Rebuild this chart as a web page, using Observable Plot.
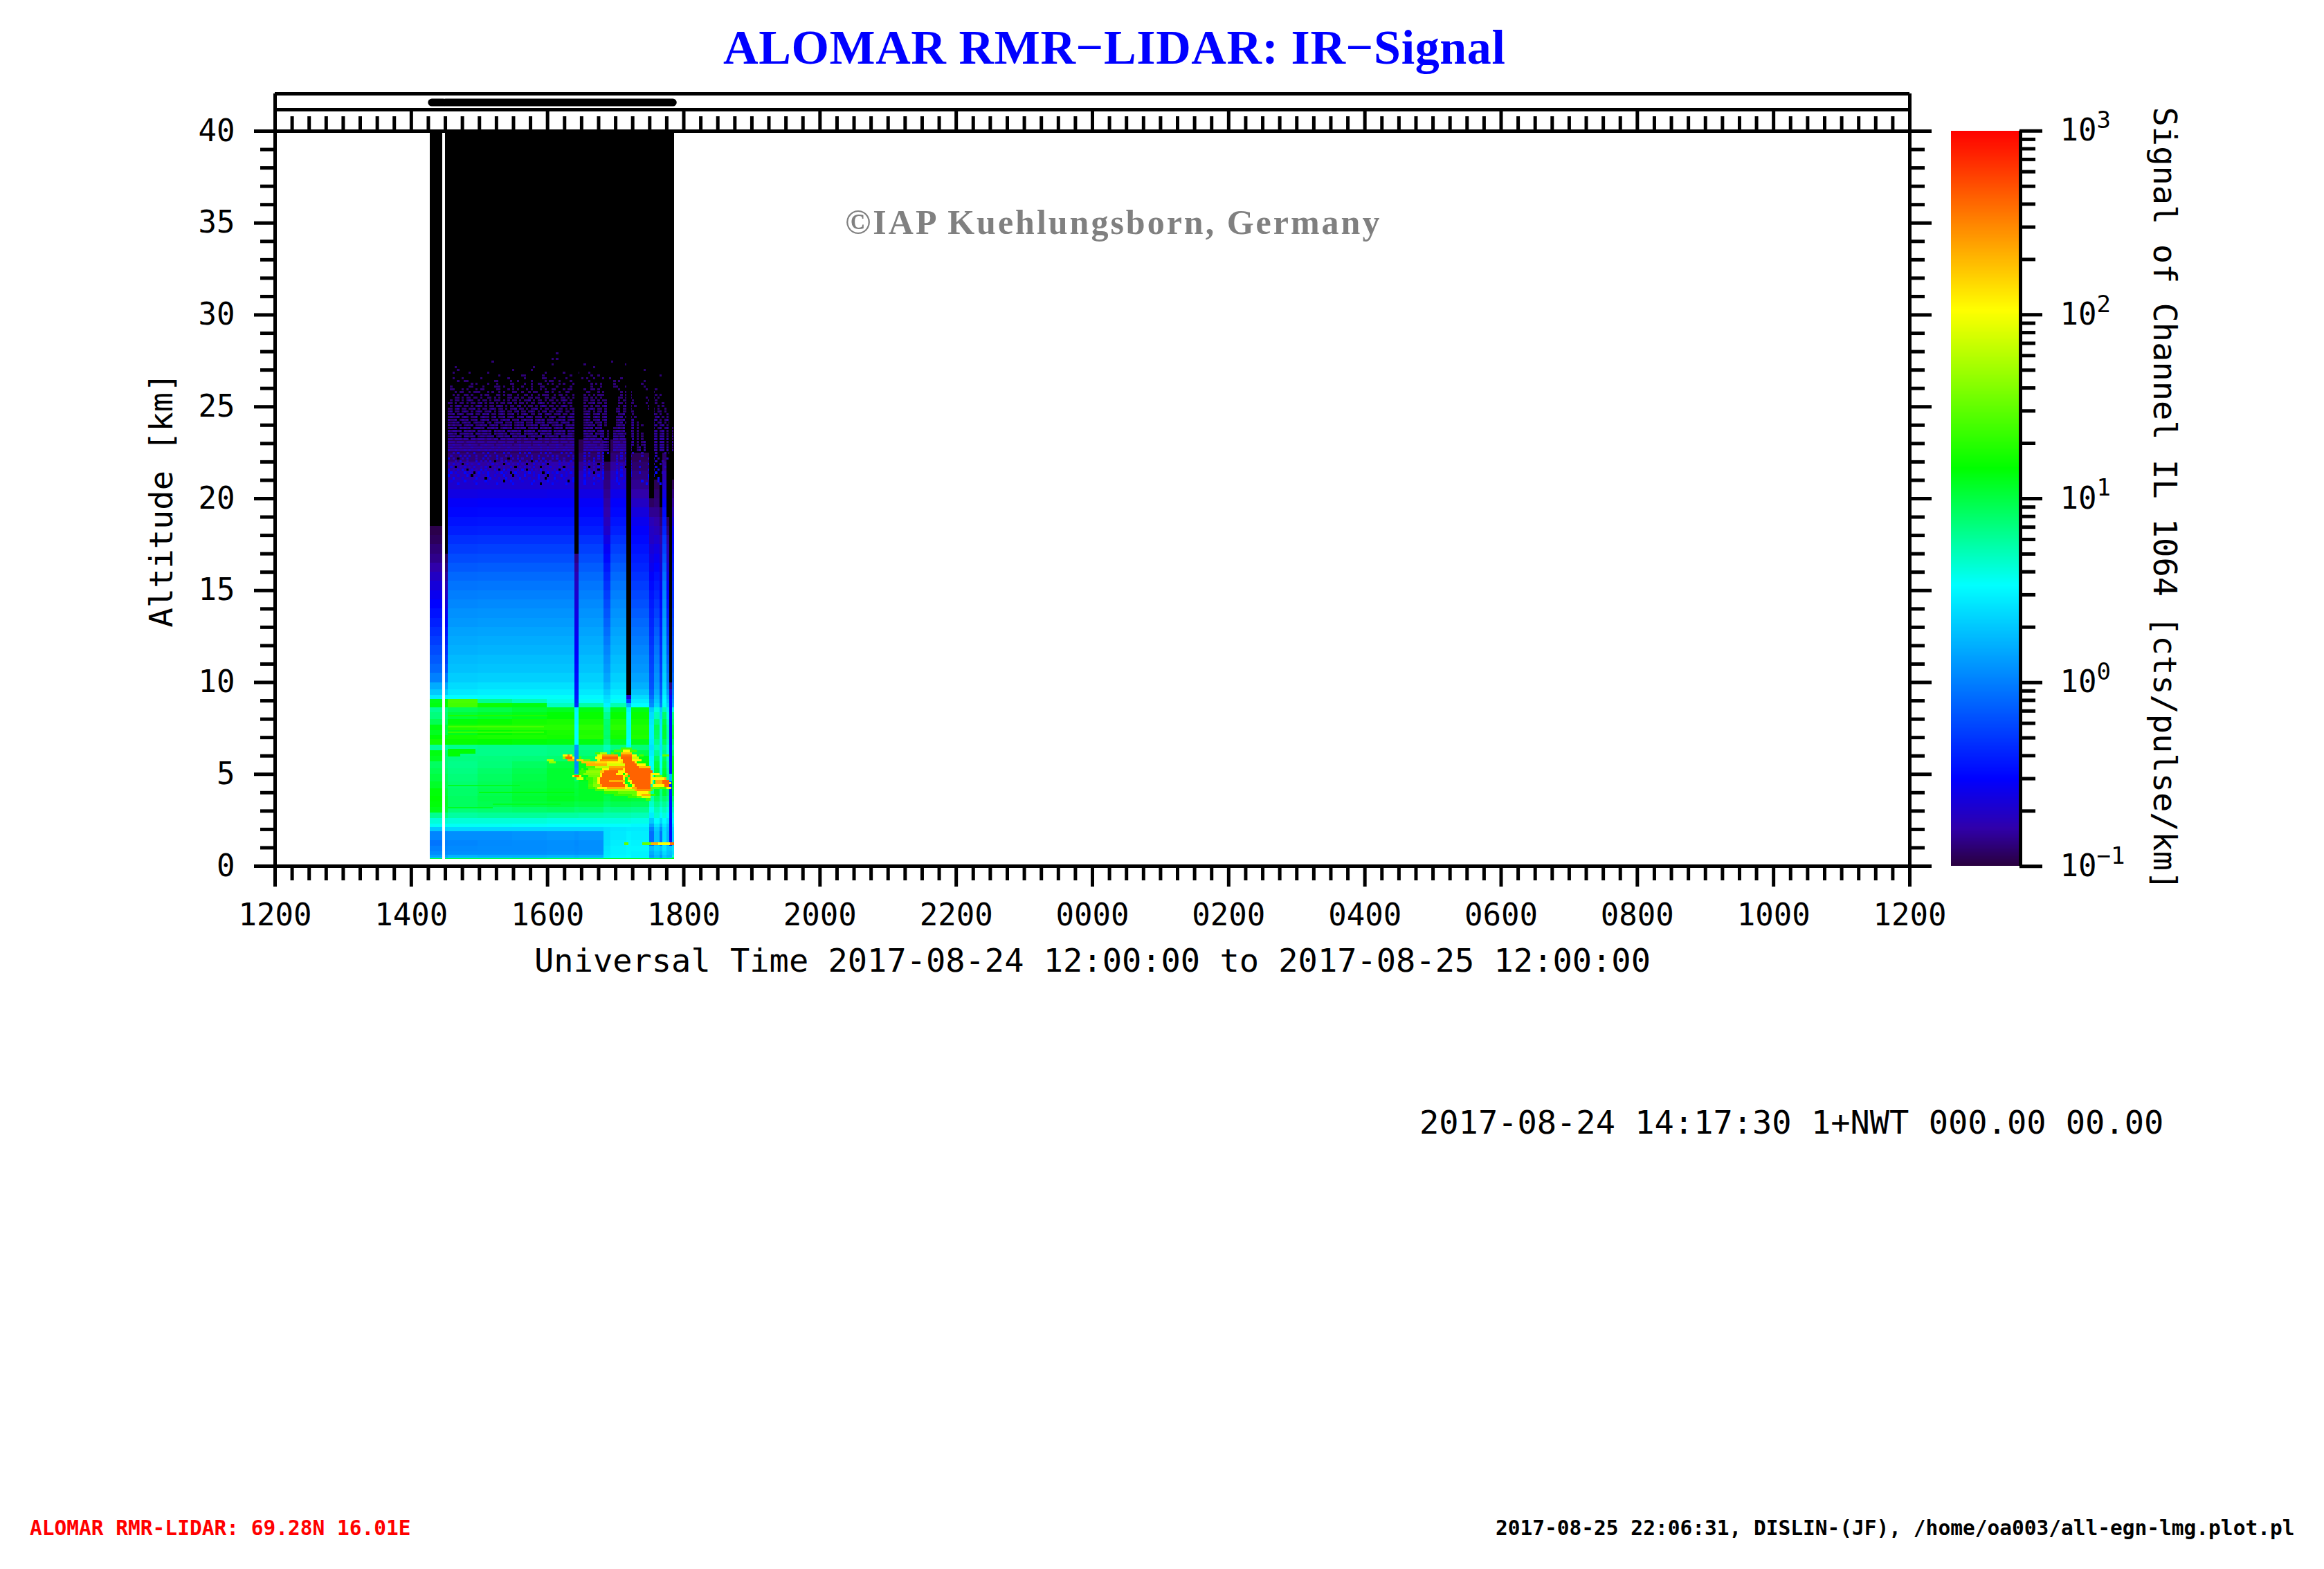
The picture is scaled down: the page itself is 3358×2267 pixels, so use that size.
<!DOCTYPE html>
<html><head><meta charset="utf-8">
<script src="https://cdn.jsdelivr.net/npm/d3@7"></script>
<script src="https://cdn.jsdelivr.net/npm/@observablehq/plot@0.6"></script>
<style>html,body{margin:0;background:#fff}#page{position:relative;width:3358px;height:2267px;overflow:hidden;background:#fff}
#page svg{position:absolute;left:0;top:0;background:transparent}
.t{position:absolute;white-space:pre;line-height:1}</style></head>
<body><div id="page"></div>
<script>
const N = null;
// Hour intervals of the profile groups (12 = 12 UT on the first day)
const timeBins = [[14.276,14.459],[14.499,14.54],[14.54,14.977],[14.977,15.485],[15.485,15.993],[15.993,16.40],[16.40,16.46],[16.46,16.826],[16.826,16.928],[16.928,17.162],[17.162,17.233],[17.233,17.497],[17.497,17.568],[17.568,17.649],[17.649,17.69],[17.69,17.751],[17.751,17.792],[17.792,17.832],[17.832,17.863]];
// Altitude edges, km, top to bottom
const kmEdges = [23.2,22.5,22,21.5,21,20.5,20,19.5,19,18.5,18,17.5,17,16.5,16,15.5,15,14.5,14,13.5,13,12.5,12,11.5,11,10.5,10,9.6,9.3,9.07,8.85,8.63,8.35,8,7.7,7.4,7.1,6.9,6.6,6.3,6,5.7,5.3,5,4.6,4.2,3.8,3.5,3.2,2.9,2.6,2.3,2.1,1.9,1.4,1.1,.8,.6,.45,.42,.38];
// log10(signal) x 100; null = black
const signalRows = [
[N,N,-96,-96,-96,-96,N,-97,N,-96,N,N,N,N,N,N,N,N,N],
[N,N,-90,-90,-90,-90,N,-92,N,-90,N,-96,N,N,N,-92,N,N,N],
[N,N,-82,-82,-82,-80,N,-84,-96,-82,N,-92,N,N,N,-85,N,N,N],
[N,N,-76,-75,-75,-74,N,-76,-90,-74,N,-88,N,N,N,-78,N,N,N],
[N,N,-69,-68,-68,-67,N,-70,-88,-68,N,-85,N,-96,N,-70,N,N,-96],
[N,N,-62,-61,-61,-60,N,-62,-85,-60,N,-80,N,-92,N,-62,N,N,-88],
[N,N,-55,-54,-54,-54,N,-55,-82,-54,N,-72,-94,-90,N,-54,N,N,-82],
[N,N,-51,-50,-50,-50,N,-51,-80,-50,N,-64,-85,-85,-96,-49,N,N,-75],
[N,N,-46,-45,-45,-45,N,-46,-75,-45,N,-58,-76,-80,-90,-44,-96,N,-65],
[-98,N,-41,-40,-40,-40,N,-41,-70,-40,N,-54,-72,-75,-85,-38,-90,N,-55],
[-95,N,-34,-33,-33,-33,N,-33,-62,-33,N,-50,-72,-68,-80,-30,-82,N,-52],
[-90,N,-28,-27,-27,-27,N,-27,-56,-27,N,-46,-66,-62,-74,-25,-76,N,-50],
[-86,-96,-22,-21,-21,-21,-88,-21,-50,-21,N,-42,-62,-57,-70,-19,-72,N,-47],
[-80,-90,-16,-15,-15,-15,-82,-15,-44,-15,N,-38,-58,-52,-66,-13,-66,N,-44],
[-72,-84,-10,-9,-9,-9,-76,-9,-38,-9,N,-33,-54,-47,-62,-7,-61,N,-41],
[-65,-78,-5,-4,-4,-4,-72,-4,-33,-4,N,-28,-50,-42,-58,-2,-56,N,-38],
[-58,-72,-1,0,0,0,-68,0,-28,0,N,-24,-46,-37,-54,2,-51,N,-35],
[-52,-65,3,4,4,4,-65,4,-23,4,N,-20,-43,-31,-50,6,-46,N,-33],
[-46,-58,7,8,8,8,-62,8,-18,8,N,-15,-40,-26,-47,10,-41,N,-30],
[-40,-52,10,11,11,11,-60,11,-13,11,N,-10,-38,-20,-44,14,-36,N,-27],
[-34,-46,14,15,15,15,-58,15,-8,15,N,-6,-36,-14,-41,17,-31,N,-24],
[-28,-40,17,18,18,18,-56,18,-3,18,N,-2,-33,-9,-38,21,-26,N,-21],
[-22,-34,20,21,21,21,-54,21,2,21,N,2,-30,-4,-35,24,-21,N,-18],
[-16,-28,24,25,25,25,-52,25,6,25,N,6,-27,0,-32,27,-15,N,-16],
[-10,-20,27,28,28,28,-50,28,10,28,N,9,-25,4,-29,30,-10,N,-14],
[0,-5,32,33,33,33,-48,33,15,33,N,14,-22,8,-25,34,-5,N,-10],
[18,15,38,40,40,40,-46,38,22,38,N,20,-20,12,-20,38,0,-90,-5],
[30,30,44,46,46,46,-44,44,30,44,N,28,-15,18,-15,44,10,-70,0],
[45,50,52,54,54,54,-42,50,38,50,-70,38,-8,25,-8,50,20,-55,5],
[110,115,140,80,70,58,-40,55,42,55,-30,45,0,30,-4,52,26,-50,10],
[112,118,138,120,112,68,-35,75,48,72,20,52,5,36,0,55,32,-50,15],
[80,85,95,98,104,108,48,112,70,110,48,112,30,60,30,72,45,-50,60],
[85,88,102,106,110,115,50,118,80,118,52,118,38,70,35,90,60,-50,85],
[95,92,114,118,122,124,50,124,88,126,54,122,42,85,40,100,65,-50,90],
[112,102,126,128,128,128,52,130,90,130,56,126,45,95,42,105,70,-50,100],
[108,98,110,116,120,124,52,126,88,124,56,124,46,92,44,104,72,-50,102],
[115,110,122,124,124,122,52,128,90,122,56,126,46,90,44,104,72,-50,105],
[122,118,118,116,114,112,52,112,85,108,52,110,44,82,42,95,68,-50,90],
[78,76,80,82,82,84,10,84,70,84,50,86,40,70,40,80,60,-48,80],
[112,90,82,82,82,84,6,86,75,98,48,98,45,80,44,85,60,-48,95],
[108,86,84,85,86,88,5,92,85,108,48,112,50,92,50,95,65,-48,108],
[92,86,82,86,92,100,5,110,100,114,100,114,52,100,55,100,70,-45,112],
[96,90,84,90,96,104,8,112,104,114,108,114,55,105,60,105,75,-45,112],
[100,94,86,92,98,104,90,110,106,112,110,114,60,108,65,108,80,20,112],
[106,96,88,94,100,104,100,106,104,108,108,110,70,108,75,108,85,-40,110],
[114,102,90,96,102,106,102,106,102,106,106,106,75,106,80,104,88,-45,104],
[116,106,92,98,104,108,104,106,98,104,104,102,72,92,78,90,80,-48,88],
[114,106,92,96,100,102,98,100,92,96,96,94,65,82,70,80,70,-48,78],
[110,103,86,88,90,92,88,90,82,84,84,82,55,72,60,70,60,-48,68],
[80,85,76,78,78,76,76,74,72,72,72,70,45,65,50,62,50,-48,60],
[62,65,62,62,62,60,60,60,60,60,60,58,30,52,35,52,40,-50,50],
[55,56,55,55,54,52,52,52,52,52,52,50,15,42,20,45,30,-50,42],
[30,34,36,36,36,36,36,36,40,42,44,44,0,32,5,38,25,-50,35],
[2,5,6,6,8,10,8,10,40,44,48,46,-8,28,-6,40,22,-50,32],
[-5,0,2,4,5,6,4,6,40,46,50,48,-10,28,-8,42,20,-45,30],
[0,2,4,5,5,6,5,6,42,48,50,50,25,36,28,44,30,30,40],
[5,4,6,6,6,8,6,8,44,48,50,48,18,30,20,38,28,26,38],
[15,15,22,20,20,22,20,22,46,50,52,48,12,26,12,32,24,22,60],
[35,30,35,35,32,35,32,35,50,52,54,50,25,30,20,35,30,35,100],
[100,100,100,100,100,100,100,100,110,110,110,110,110,110,110,110,110,110,115]
];
// Thin aerosol streaks: [hour from, hour to, km low, km high, log10(signal) x 100]
const streaks = [
[14.54,14.95,6.12,6.35,115],[14.54,14.72,5.95,6.12,115],
[14.54,15.95,7.55,7.62,140],[14.54,15.95,7.25,7.32,135],[14.54,16.0,8.15,8.22,125],
[14.54,15.2,3.12,3.22,108],[15.2,16.2,3.3,3.4,108],[14.54,15.6,4.35,4.42,108],[15.0,16.4,3.95,4.02,112]
];
// Cloud cells: [row, first column, last column, log10(signal) x 100]
const cloudOrigin = {hour:16.095, km:6.817, hourStep:.0339, kmStep:.1255};
const cloudRuns = [
[3,29,33,140],[4,26,29,140],[4,33,35,140],[5,18,19,140],[11,14,17,140],[13,11,13,135],[14,11,12,135],[16,14,16,135],[17,15,16,135],[18,15,16,135],[19,15,16,140],[20,15,17,135],[20,46,48,140],[21,18,21,140],[22,22,27,135],[23,26,33,135],[23,42,43,135],[24,32,35,135],
[4,30,32,205],
[5,20,22,175],[5,25,25,140],[5,29,33,225],
[6,4,5,205],[6,6,6,250],[6,7,7,205],[6,19,20,205],[6,21,27,240],[6,29,33,255],[6,34,35,205],[6,37,38,140],[6,47,49,150],
[7,4,4,160],[7,5,7,262],[7,8,8,205],[7,11,11,140],[7,18,20,205],[7,21,27,262],[7,28,28,205],[7,29,33,262],[7,34,36,185],
[8,-3,-1,175],[8,6,8,235],[8,10,12,220],[8,13,15,150],[8,19,19,205],[8,20,27,245],[8,28,29,205],[8,30,33,262],[8,34,37,205],
[9,-2,0,165],[9,12,17,225],[9,18,22,215],[9,23,28,205],[9,29,29,215],[9,30,34,262],[9,35,35,205],
[10,14,22,232],[10,23,30,190],[10,31,35,262],[10,36,39,205],
[11,18,23,180],[11,24,30,235],[11,31,36,262],[11,37,41,225],
[12,12,12,140],[12,15,20,150],[12,21,23,205],[12,24,29,250],[12,30,30,205],[12,31,41,262],
[13,14,19,165],[13,20,21,225],[13,22,27,262],[13,28,30,205],[13,31,42,262],
[14,13,19,160],[14,20,20,205],[14,21,26,262],[14,27,29,205],[14,31,31,205],[14,32,41,262],[14,42,45,205],
[15,8,8,205],[15,9,10,262],[15,11,11,205],[15,15,19,155],[15,20,20,205],[15,21,29,262],[15,30,30,205],[15,31,31,232],[15,33,41,262],[15,42,42,205],[15,44,46,150],
[16,10,12,190],[16,17,18,150],[16,19,19,205],[16,20,29,262],[16,30,30,205],[16,32,32,232],[16,33,41,262],[16,42,47,205],[16,48,48,232],
[17,17,18,150],[17,19,19,205],[17,20,23,262],[17,24,30,232],[17,32,33,205],[17,34,41,262],[17,42,42,205],[17,44,46,232],[17,47,49,262],
[18,17,18,155],[18,19,19,205],[18,20,29,262],[18,30,30,205],[18,33,33,205],[18,34,41,262],[18,42,42,205],[18,44,46,232],[18,47,49,262],[18,50,50,205],
[19,17,19,160],[19,20,20,232],[19,21,30,262],[19,31,31,205],[19,34,34,205],[19,35,41,262],[19,43,47,205],[19,48,49,262],
[20,18,18,150],[20,19,22,205],[20,23,30,232],[20,31,33,205],[20,34,35,232],[20,36,41,262],[20,42,45,150],[20,49,50,205],
[21,22,34,175],[21,35,35,232],[21,36,41,245],[21,42,42,150],
[22,28,35,150],[22,36,40,205],[22,41,41,165],
[23,34,35,150],[23,36,37,205],[23,38,41,232],
[24,36,37,150],[24,38,41,190],
[25,40,41,140]
];
// Thin bright layer near 1.2 km: [hour from, hour to, log10(signal) x 100]
const lowLayer = [[17.13,17.19,150],[17.40,17.53,150],[17.53,17.63,232],[17.63,17.80,200],[17.80,17.86,255]];
// Noisy upper edge of the signal; a..e = increasing faint signal, x and '.' = black
const speckleOrigin = {hour:14.54, km:27.95, hourStep:.0338, kmStep:.151};
const speckleLevels = {a:-90, b:-82, c:-74, d:-62, e:-50};
const speckleRows = [
"...............................................a..................................................",
"..................................................................................................",
".............................................a.a..................................................",
"...................a...................................................a..........................",
".............................................a.............a.................a.....................",
"...a.................................a.................a.......a..................................",
"....a.......................a.......a................................................a............",
"..a......a.......a........................a.......a.....a....a....................................",
"......................a.........aa.......a...........a........a..a..........................a.....",
"..a...a.......a...........a......a.......aa...a....a......a.a..a...a..a....a......................",
"....a..aa...........aa.....a..a.....a.....a.aa..a....a.......a..........a.a..........a............",
"..........a.a....a...a.....aa....a..a..aa..a.a..a.a...a.......a.a.a.....a...........a.............",
".a.......aa....a....aaa.a...a...a...a...aa.....a.....a........a...a.....aa...a.......a..a.........",
".aa...a.a...a.aa.....aa...a.a.a...a.a...a.a..aa...a.aa.....a..aa.a........a...a.......a.a.a.......",
"...a.aa..a.aaa...a.a..a.a...aa..a..a.aa...aa.a..a..aa.......aa...a.a.......a.a.a.........a........",
"..a.a..aa.a...a.aa...aa.a.aa..a..aa.a..a.aaa..a.aa.a..a....a.a.a.aaa.......a.aaa..........a.a.....",
"...aa.a.aa.aa.a..aa.a.a...aa.aa.a..aa.aa..aa.aa..aa.a.a....aa.a.a.a.......aa.a.a......a..a.a......",
".a.aa.a.aba..a.aa.a.aaa.a.a.aa.a.aab.a.aa.a.aa.a.aba.a.....aa.aa.a.aa.....a.aa..a......aa.a.......",
"aa.a.aa.a.aa.ab.a.aa.a.aa.ab.a.aa.a.aa.aba.a.aa.a.a.aa.....a.aab.aa.a.....aa.a.aa.....a.a.a..a....",
".a.aba.aa.a.aba.a.aa.aba.a.aa.ab.a.aa.a.aba.aa.a.aba.a.....aa.a.aa.ab.....a.ab.a.a.....aa..a.a....",
"aa.ab.aa.aab.a.aa.aba.aa.a.aab.aa.a.aab.a.aa.ab.aa.a.aa....a.aba.aa.a....aa.aa.a.......aba.a..a...",
"ab.aa.aba.a.aba.aab.a.aba.aa.ab.aa.aba.a.ab.aa.aba.aa.a....aab.a.aa.b....ab.aa.aa.......aa.aa.a...",
"aab.aba.aab.aa.bab.aa.aba.aab.a.aba.aa.ab.aba.aab.aa.ab....aba.aab.aa.....aab.a.a.......aba.a..a..",
"abaab.aba.aab.abaa.ab.aab.aba.aab.aba.aab.a.aba.aab.aba....aab.aba.ab....aab.aba.a......a.ab.a.a..",
"baab.abab.aab.abab.aab.abab.aab.abaab.abab.aab.abab.aab....aba.aab.ab....abab.aab.......aab.a.ab..",
"aabab.abab.abaab.ab.abab.aab.abab.aab.abab.abaab.abab.ab...abab.aab.a....aab.abab.a.....ab.ab.a.a.",
"babaab.abab.aabab.abab.aabab.abab.aabab.abab.aabab.abab....aabab.ab.a....abab.aab.a.a...aab.ab.a..",
"abab.babab.abbab.babab.abbab.ababb.abab.babab.abab.babab...abab.bab.....aabab.bab.a.....ab.ab.ab.a",
"babbab.babab.babbab.babab.babbab.babab.babbab.babab.babb...babab.abb.a..abbab.aba.a.....aab.ab.a.a",
"bbab.babbab.bbabbab.babbab.bbabb.babbab.bbabb.abbab.bbab...bbab.babb.a..babbab.ab.a.a...abb.ab.a.a",
"abbabb.bbabb.abbabbb.abbabb.bbabbb.abbabb.babbab.bbabbab...abbabb.bb.a..bbabb.bab.a.a...bab.bb.a.b",
"bbabbbabb.bbabbbabbabb.bbabbbabbabbabb.bbabbabbbabbabbb....bbabbabb.ba..bbabbab.b.a.a...abb.bb.b.a",
"bbbabbbabbbbabbbabbbbabbbabbb.bbabbbabbbbabbabbbabbbabbb...bbbabbbabba..bbbabbbab.a.ab..bab.bb.a.b",
"bbcbbbabbcbbbabbcbbbabbbcbbbabbcbbbbabbcbbbabbbcbbabbbcb...bbcbbbabbba..bbcbbbabb.a.ab..bbb.bb.a.b",
"bcbbbcbbbbcbbbcbbbbcbbcbbbcbbbbcbbbcbbbbcbbcbbbcbbbcbbbc...bcbbbcbbbba..bcbbbbab..ab.b..bab.cb.b.a",
"cbbcbbbcbcbbbcbbcbcbbcbbbcbcbbbcbbcbcbbbcbbcbbcbbbcbcbbb...cbbcbbcbbbb..cbbcbbbb..ab.b..bbb.bb.b.b",
"..c.d...c..d...c.d..c...d.c....d.c.d....c.d.c....d.c.d.....c.d...c.d.c.....c.d..c...b...c.b...b.c",
".c...d.c.d..c...d.c..d...c.d..c...d.c..d...c.d.c....d.c....d.c...d.c.....c.d...c....c...b.c......",
"d.c.x.c.d...c..d.c...d.c..x.c.d.c...d..c.d...c.d..c...d....c...d.c.d.....d.c.c.........c.d.b...c.",
"...c.d..c...d.c.c.d.x..c.d.c...d..c.x.d.c.d.c...d.c..d.c...d.c.d...c.....c...d.c...c....c.c..b...",
"c.d.c.x.d.c..d...c.d.c..x.d.c.d.c.x..d.c.d.x.c..d.c.d......c.d.c.x.d.....d.c.c.d.......d.c..c....",
".d.x.c.d.c.d..c.d.x.c.d.c..d.x.c.d.c.d..x.c.d.c.d.x.c.d....d.x.c.d.c.....c.d.x.c...d....c.d...c..",
"d.c.d.e.x.d.c.e.d.c.d.x.e.d.c.d.e.x.d.c.e.d.c.d.x.e.d.c....e.d.c.x.d.....d.e.c.d.......d.c.d.....",
".e.d.c.e.d.x.e.d.e.c.d.e.d.x.e.c.d.e.d.c.x.e.d.e.c.d.e.....d.e.x.c.e.....e.d.c.e...d....d.e..c...",
"e...d...e.x..d...e..d...e...x.d..e...d.e...x..d..e.d...e...e.d...e.d.....d.e...d.......e.d.......",
"..e...d.....e...x.e...d..e.....e...d...e..x...e...d...e....d...e...e.....e...d.........d...e.....",
".d.....e...d....e.......x..e....d....e.....e...d....x.e....e.....d.......e..d.......e......d.....",
"....e.......e....d...e......e.......e...x....e.....e.......e...e..........e...........e.....e....."
];
// Columns that stay black in the noisy zone (hour ranges)
const blackColumns = [[16.40,16.46],[17.162,17.233],[17.497,17.568],[17.792,17.832]];
const dataSpans = [[14.276,14.459],[14.499,17.863]];
const runBar = [[14.30,14.47],[14.50,17.84]];
const xMajor = [12,14,16,18,20,22,24,26,28,30,32,34,36];
const xLabels = ["1200","1400","1600","1800","2000","2200","0000","0200","0400","0600","0800","1000","1200"];
const yMajor = [0,5,10,15,20,25,30,35,40];
const decades = [0.1,1,10,100,1000];
const exponents = ["−1","0","1","2","3"];
// Positions on the colour scale: log10(signal) and colour
const colorLogs = [-1,-0.8,-0.53,0.525,1.16,2.02,3];
const colorHexes = ["#2a0040","#3000aa","#0000ff","#00ffff","#00ff00","#ffff00","#ff0000"];

const MONO = "'DejaVu Sans Mono'";
const W = 3358, H = 1500;
const ramp = d3.scaleLinear().domain(colorLogs.map(l => (l + 1) / 4)).range(colorHexes).clamp(true);
const colorOpt = {type:"log", domain:[0.1,1000], interpolate:t => ramp(t)};
const sig = v => Math.pow(10, v / 100);

const baseCells = signalRows.flatMap((row, i) => row.flatMap((v, j) => v === null ? [] :
  [{t1:timeBins[j][0], t2:timeBins[j][1], k1:kmEdges[i+1], k2:kmEdges[i], v:sig(v)}]));
const streakCells = streaks.map(([a,b,k1,k2,v]) => ({t1:a, t2:b, k1, k2, v:sig(v)}));
const cloudCells = cloudRuns.map(([r,a,b,v]) => ({
  t1:cloudOrigin.hour + a*cloudOrigin.hourStep, t2:cloudOrigin.hour + (b+1)*cloudOrigin.hourStep,
  k1:cloudOrigin.km - (r+1)*cloudOrigin.kmStep, k2:cloudOrigin.km - r*cloudOrigin.kmStep, v:sig(v)}));
const lowCells = lowLayer.map(([a,b,v]) => ({t1:a, t2:b, k1:1.14, k2:1.28, v:sig(v)}));
const speckCells = speckleRows.flatMap((row, r) => Array.from(row).flatMap((ch, c) => (ch === "." || ch === "x") ? [] : [{
  t1:speckleOrigin.hour + c*speckleOrigin.hourStep, t2:speckleOrigin.hour + (c+1)*speckleOrigin.hourStep,
  k2:speckleOrigin.km - r*speckleOrigin.kmStep, k1:speckleOrigin.km - r*speckleOrigin.kmStep - .12, v:sig(speckleLevels[ch])}]));
const blackSpecks = speckleRows.flatMap((row, r) => Array.from(row).flatMap((ch, c) => ch !== "x" ? [] : [{
  t1:speckleOrigin.hour + c*speckleOrigin.hourStep, t2:speckleOrigin.hour + (c+1)*speckleOrigin.hourStep,
  k2:speckleOrigin.km - r*speckleOrigin.kmStep, k1:speckleOrigin.km - r*speckleOrigin.kmStep - .12}]));
const rectOpt = {x1:"t1", x2:"t2", y1:"k1", y2:"k2", fill:"v", shapeRendering:"crispEdges"};

const xMinor = d3.range(12, 36.01, .25).filter(h => !xMajor.includes(h));
const yMinor = d3.range(0, 40.01, 1).filter(k => !yMajor.includes(k));
const tickOff = {stroke:"black", strokeWidth:5, fill:"none", label:null};

const main = Plot.plot({
  width:W, height:H, marginTop:189, marginBottom:H-1251, marginLeft:397, marginRight:W-2759,
  x:{domain:[12,36], axis:null}, y:{domain:[0,40], axis:null}, color:colorOpt,
  marks:[
    Plot.rect(dataSpans, {x1:d=>d[0], x2:d=>d[1], y1:()=>0.38, y2:()=>40, fill:"black", shapeRendering:"crispEdges"}),
    Plot.rect(baseCells, rectOpt),
    Plot.rect(streakCells, rectOpt),
    Plot.rect(speckCells, rectOpt),
    Plot.rect(blackSpecks, {x1:"t1", x2:"t2", y1:"k1", y2:"k2", fill:"black", shapeRendering:"crispEdges"}),
    Plot.rect(blackColumns, {x1:d=>d[0], x2:d=>d[1], y1:()=>20.8, y2:()=>28, fill:"black", shapeRendering:"crispEdges"}),
    Plot.rect(cloudCells, rectOpt),
    Plot.rect(lowCells, rectOpt),
    Plot.ruleY([0,40,41.17,42.03], {stroke:"black", strokeWidth:5}),
    Plot.ruleX([12,36], {y1:0, y2:42.03, stroke:"black", strokeWidth:5}),
    ...runBar.map(s => Plot.line([[s[0],41.56],[s[1],41.56]], {stroke:"black", strokeWidth:11, strokeLinecap:"round"})),
    Plot.axisX({anchor:"bottom", ticks:xMajor, tickSize:30, strokeWidth:5, stroke:"black", tickPadding:24, fontSize:44, fontFamily:MONO, fill:"black", tickFormat:h=>xLabels[xMajor.indexOf(h)], label:null}),
    Plot.axisX({anchor:"bottom", ticks:xMinor, tickSize:21, ...tickOff}),
    Plot.axisX({anchor:"top", ticks:xMajor, tickSize:31, ...tickOff}),
    Plot.axisX({anchor:"top", ticks:xMinor, tickSize:22, ...tickOff}),
    Plot.axisY({anchor:"left", ticks:yMajor, tickSize:30, strokeWidth:5, stroke:"black", tickPadding:28, fontSize:44, fontFamily:MONO, fill:"black", label:null}),
    Plot.axisY({anchor:"left", ticks:yMinor, tickSize:21, ...tickOff}),
    Plot.axisY({anchor:"right", ticks:yMajor, tickSize:31, ...tickOff}),
    Plot.axisY({anchor:"right", ticks:yMinor, tickSize:21, ...tickOff}),
    Plot.text(["Altitude [km]"], {frameAnchor:"left", textAnchor:"middle", dx:-164, dy:2, rotate:-90, fontSize:47, fontFamily:MONO, fill:"black"}),
    Plot.text(["Universal Time 2017-08-24 12:00:00 to 2017-08-25 12:00:00"], {frameAnchor:"bottom", dy:152, fontSize:47, fontFamily:MONO, fill:"black"})
  ]
});

const barLevels = d3.range(0, 533).map(i => [Math.pow(10, -1 + i/133.25), Math.pow(10, -1 + (i+1)/133.25)]);
const barMinor = decades.slice(0,-1).flatMap(d => [2,3,4,5,6,7,8,9].map(m => d*m));
const bar = Plot.plot({
  width:W, height:H, marginTop:188.7, marginBottom:H-1251.3, marginLeft:2819, marginRight:W-2917,
  x:{domain:[0,1], axis:null}, y:{type:"log", domain:[0.1,1000], axis:null}, color:colorOpt,
  marks:[
    Plot.rect(barLevels, {x1:()=>0, x2:()=>1, y1:d=>d[0], y2:d=>d[1], fill:d=>d[0], shapeRendering:"crispEdges"}),
    Plot.ruleX([1], {dx:2, y1:0.1, y2:1000, stroke:"black", strokeWidth:5}),
    Plot.axisY({anchor:"right", ticks:decades, tickSize:33, ...tickOff}),
    Plot.axisY({anchor:"right", ticks:barMinor, tickSize:23, ...tickOff}),
    Plot.text(decades, {x:()=>1, y:d=>d, text:()=>"10", textAnchor:"start", dx:59, dy:0, fontSize:44, fontFamily:MONO, fill:"black"}),
    Plot.text(decades, {x:()=>1, y:d=>d, text:(d,i)=>exponents[i], textAnchor:"start", dx:112, dy:-15, fontSize:34, fontFamily:MONO, fill:"black"}),
    Plot.text(["Signal of Channel IL 1064 [cts/pulse/km]"], {frameAnchor:"right", textAnchor:"middle", dx:210, rotate:90, fontSize:47, fontFamily:MONO, fill:"black"})
  ]
});

const page = document.getElementById("page");
page.append(main, bar);
function label(text, o) {
  const d = document.createElement("div");
  d.className = "t"; d.textContent = text;
  const asc = o.family.includes("Serif") ? .8375 : .846;
  d.style.cssText = `left:${o.x}px;top:${o.base - asc*o.size}px;font:${o.weight||400} ${o.size}px ${o.family};color:${o.color};letter-spacing:${o.ls||0}px`;
  page.append(d);
}
const SERIF = "'Liberation Serif'";
label("ALOMAR RMR−LIDAR: IR−Signal", {x:1045, base:88, size:70, family:SERIF, weight:700, color:"#0000ff", ls:0.6});
label("©IAP Kuehlungsborn, Germany", {x:1221, base:334, size:50, family:SERIF, weight:700, color:"#808080", ls:3});
label("2017-08-24 14:17:30 1+NWT 000.00 00.00", {x:2051, base:1634, size:47, family:MONO, color:"#000"});
label("ALOMAR RMR-LIDAR: 69.28N 16.01E", {x:43, base:2216, size:29.5, family:MONO, weight:700, color:"#ff0000"});
label("2017-08-25 22:06:31, DISLIN-(JF), /home/oa003/all-egn-lmg.plot.pl", {x:2161, base:2216, size:29.5, family:MONO, weight:700, color:"#000"});
</script></body></html>
